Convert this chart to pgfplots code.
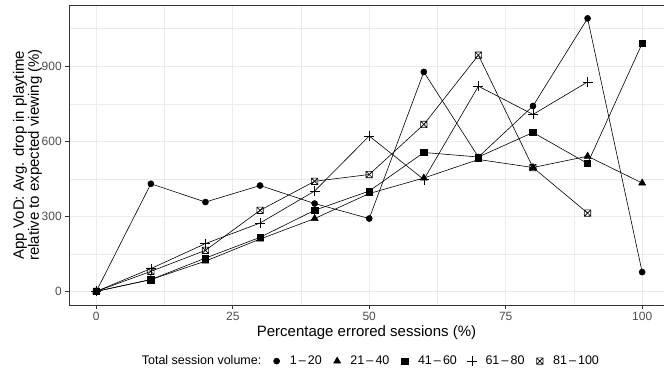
\documentclass[border=0pt]{standalone}
\usepackage{fontspec}
\setmainfont{Liberation Sans}
\usepackage{pgfplots}
\pgfplotsset{compat=1.18}
\definecolor{gridc}{HTML}{EBEBEB}
\definecolor{framec}{HTML}{333333}
\definecolor{ticklab}{HTML}{4D4D4D}
\pgfdeclareplotmark{boxx}{%
  \pgfpathrectangle{\pgfpoint{-\pgfplotmarksize}{-\pgfplotmarksize}}{\pgfpoint{2\pgfplotmarksize}{2\pgfplotmarksize}}%
  \pgfpathmoveto{\pgfpoint{-\pgfplotmarksize}{-\pgfplotmarksize}}\pgfpathlineto{\pgfpoint{\pgfplotmarksize}{\pgfplotmarksize}}%
  \pgfpathmoveto{\pgfpoint{-\pgfplotmarksize}{\pgfplotmarksize}}\pgfpathlineto{\pgfpoint{\pgfplotmarksize}{-\pgfplotmarksize}}%
  \pgfusepathqstroke}
\begin{document}
\begin{tikzpicture}
\path[use as bounding box] (-69pt,-67pt) rectangle (595pt,305pt);
\begin{axis}[
  scale only axis, width=595pt, height=300pt,
  xmin=-5, xmax=104, ymin=-54.5, ymax=1144.5,
  xtick={0,25,50,75,100}, minor xtick={12.5,37.5,62.5,87.5},
  ytick={0,300,600,900}, minor ytick={150,450,750,1050},
  grid=both,
  major grid style={color=gridc, line width=0.8pt},
  minor grid style={color=gridc, line width=0.4pt},
  axis line style={framec, line width=0.8pt},
  tick style={framec, line width=0.7pt},
  major tick length=3.7pt, minor tick length=0pt,
  tick align=outside, xtick pos=bottom, ytick pos=left,
  ticklabel style={font=\fontsize{12}{14}\selectfont, text=ticklab},
  /pgf/number format/assume math mode=true,
  xlabel={Percentage errored sessions (\%)},
  xlabel style={font=\fontsize{15}{17}\selectfont, at={(axis description cs:0.5,0)}, anchor=north, yshift=-17pt},
  ylabel={App VoD: Avg. drop in playtime\\relative to expected viewing (\%)},
  ylabel style={font=\fontsize{15}{15}\selectfont, align=center, at={(axis description cs:0,0.5)}, anchor=south, yshift=23.5pt},
  legend style={at={(axis description cs:0.504,-0.187)}, anchor=center, draw=none, fill=none,
    font=\fontsize{12.5}{14}\selectfont, legend columns=-1,
    /tikz/every even column/.append style={column sep=5pt},
    /tikz/every odd column/.append style={column sep=3pt}},
  legend image code/.code={\path (0pt,0pt) (16pt,0pt); \draw[only marks] plot coordinates {(8pt,0pt)};},
  every axis plot/.append style={black, line width=0.6pt},
]
\addlegendimage{empty legend}
\addlegendentry{Total session volume:}
\addplot[mark=*, mark size=3pt, mark options={solid, fill=black}] coordinates {(0,0)(10,430)(20,357)(30,423)(40,351)(50,291)(60,877)(70,537)(80,741)(90,1091)(100,77)};
\addlegendentry{1\,--\,20}
\addplot[mark=triangle*, mark size=4pt, mark options={solid, fill=black}] coordinates {(0,0)(10,47)(20,121)(30,209)(40,291)(50,391)(60,453)(70,527)(80,495)(90,540)(100,433)};
\addlegendentry{21\,--\,40}
\addplot[mark=square*, mark size=3.2pt, mark options={solid, fill=black}] coordinates {(0,0)(10,47)(20,133)(30,216)(40,324)(50,401)(60,555)(70,537)(80,635)(90,511)(100,991)};
\addlegendentry{41\,--\,60}
\addplot[mark=+, mark size=5pt, mark options={solid}] coordinates {(0,0)(10,91)(20,191)(30,273)(40,401)(50,621)(60,447)(70,820)(80,707)(90,837)};
\addlegendentry{61\,--\,80}
\addplot[mark=boxx, mark size=3.2pt, mark options={solid}] coordinates {(0,0)(10,80)(20,164)(30,324)(40,440)(50,467)(60,667)(70,944)(80,495)(90,313)};
\addlegendentry{81\,--\,100}
\end{axis}
\end{tikzpicture}
\end{document}
